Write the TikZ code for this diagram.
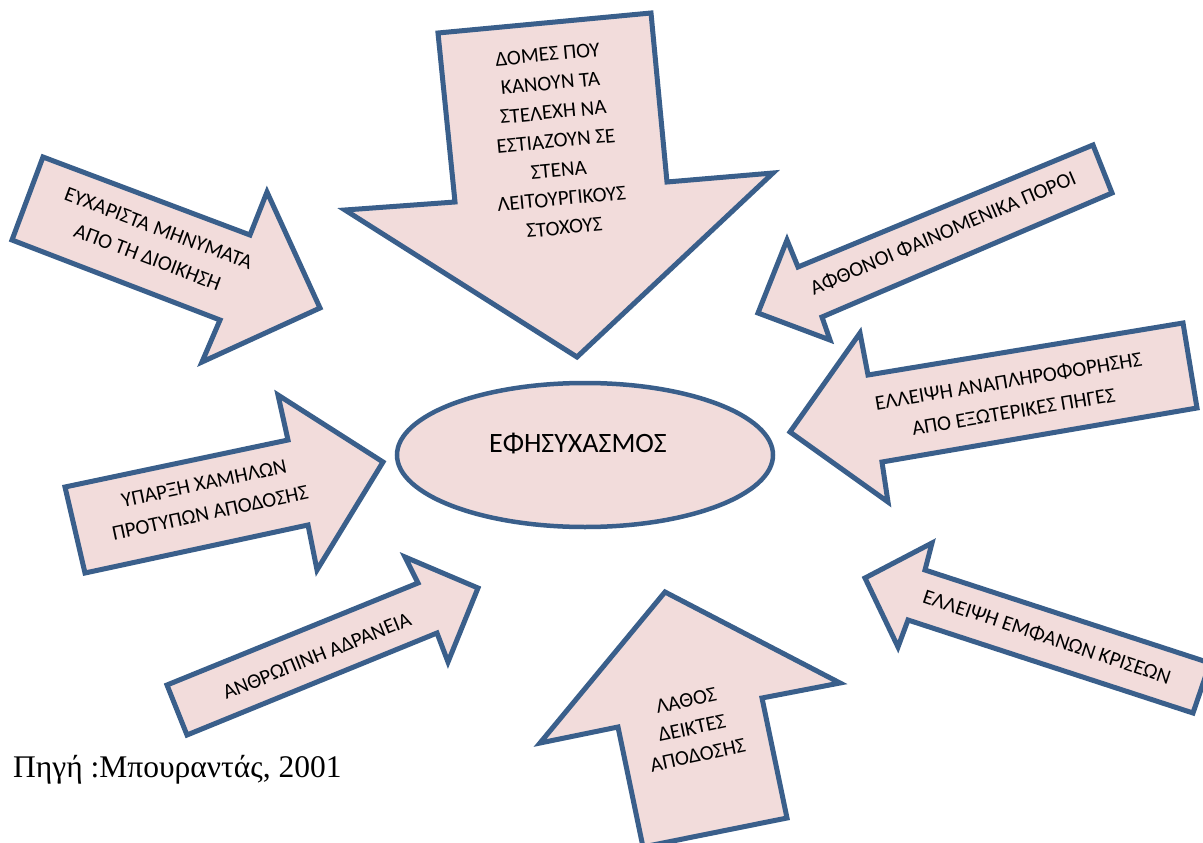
\documentclass[tikz,border=0pt]{standalone}
\usepackage{fontspec}
\setmainfont{Carlito}
\newfontfamily\captionserif{Liberation Serif}
\usetikzlibrary{shapes.geometric}
\definecolor{edgeblue}{HTML}{3A5F8B}
\definecolor{shapepink}{HTML}{F2DCDB}
\begin{document}
\begin{tikzpicture}[x=1pt,y=-1pt,
  blockarrow/.style={draw=edgeblue, fill=shapepink, line width=5pt, line join=miter},
  lbl/.style={align=center, inner sep=0pt, text=black, font=\fontsize{21}{29}\selectfont},
  core/.style={ellipse, draw=edgeblue, fill=shapepink, line width=4.5pt}]
\clip (0,0) rectangle (1203,843);
\fill[white] (0,0) rectangle (1203,843);

% block arrows pointing at the centre
\draw[blockarrow] (438,33) -- (651,13) -- (667,182) -- (773,173) -- (577,357) -- (345,210) -- (455,202) -- cycle;
\draw[blockarrow] (43,157) -- (250,235) -- (267,192) -- (320,308) -- (202,362) -- (220,320) -- (12,240) -- cycle;
\draw[blockarrow] (1093,145) -- (1112,193) -- (822,317) -- (830,340) -- (758,313) -- (787,240) -- (798,267) -- cycle;
\draw[blockarrow] (790,432) -- (860,333) -- (868,375) -- (1183,323) -- (1197,408) -- (882,462) -- (888,502) -- cycle;
\draw[blockarrow] (865,578) -- (932,543) -- (925,570) -- (1210,663) -- (1193,713) -- (908,620) -- (898,647) -- cycle;
\draw[blockarrow] (665,592) -- (840,683) -- (762,698) -- (787,818) -- (643,847) -- (618,727) -- (540,743) -- cycle;
\draw[blockarrow] (167,685) -- (418,583) -- (405,557) -- (478,588) -- (448,662) -- (437,633) -- (187,735) -- cycle;
\draw[blockarrow] (65,487) -- (288,440) -- (278,395) -- (383,462) -- (317,570) -- (308,525) -- (85,573) -- cycle;

% centre ellipse
\node[core, minimum width=376pt, minimum height=144pt] (centre) at (585,455) {};
\node[lbl, font=\fontsize{28}{34}\selectfont] (centretext) at (578,444) {ΕΦΗΣΥΧΑΣΜΟΣ};

% arrow labels
\node[lbl, rotate=5.5] (structures) at (556,141) {ΔΟΜΕΣ ΠΟΥ\\ΚΑΝΟΥΝ ΤΑ\\ΣΤΕΛΕΧΗ ΝΑ\\ΕΣΤΙΑΖΟΥΝ ΣΕ\\ΣΤΕΝΑ\\ΛΕΙΤΟΥΡΓΙΚΟΥΣ\\ΣΤΟΧΟΥΣ};
\node[lbl, rotate=-20.6, font=\fontsize{21}{31}\selectfont] (messages) at (153,243) {ΕΥΧΑΡΙΣΤΑ ΜΗΝΥΜΑΤΑ\\ΑΠΟ ΤΗ ΔΙΟΙΚΗΣΗ};
\node[lbl, rotate=23] (resources) at (943,233) {ΑΦΘΟΝΟΙ ΦΑΙΝΟΜΕΝΙΚΑ ΠΟΡΟΙ};
\node[lbl, rotate=9.5, font=\fontsize{21}{31}\selectfont] (feedback) at (1011,396) {ΕΛΛΕΙΨΗ ΑΝΑΠΛΗΡΟΦΟΡΗΣΗΣ\\ΑΠΟ ΕΞΩΤΕΡΙΚΕΣ ΠΗΓΕΣ};
\node[lbl, rotate=-18.5] (crises) at (1047,637) {ΕΛΛΕΙΨΗ ΕΜΦΑΝΩΝ ΚΡΙΣΕΩΝ};
\node[lbl, rotate=12, font=\fontsize{21}{28}\selectfont] (indicators) at (692,728) {ΛΑΘΟΣ\\ΔΕΙΚΤΕΣ\\ΑΠΟΔΟΣΗΣ};
\node[lbl, rotate=22] (inertia) at (317,656) {ΑΝΘΡΩΠΙΝΗ ΑΔΡΑΝΕΙΑ};
\node[lbl, rotate=12, font=\fontsize{21}{30}\selectfont] (standards) at (207,498) {ΥΠΑΡΞΗ ΧΑΜΗΛΩΝ\\ΠΡΟΤΥΠΩΝ ΑΠΟΔΟΣΗΣ};

% source line
\node[anchor=base west, inner sep=0pt, font=\captionserif\fontsize{31.5}{36}\selectfont] (source) at (13,777) {Πηγή :Μπουραντάς, 2001};
\end{tikzpicture}
\end{document}
